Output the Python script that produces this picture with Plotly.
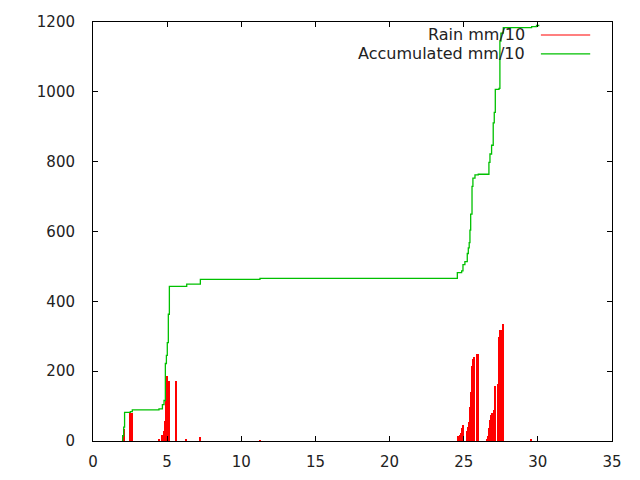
import plotly.graph_objects as go

# Rain impulses (day, mm/10)
rain_x = [2.05, 2.10, 2.52, 2.65, 4.43, 4.65, 4.77, 4.84, 4.90, 4.97, 5.04, 5.10,
          5.60, 6.25, 7.22, 11.26,
          24.59, 24.65, 24.73, 24.79, 24.86, 24.93, 25.20, 25.26, 25.33, 25.40,
          25.47, 25.54, 25.60, 25.67, 25.87, 25.94,
          26.55, 26.62, 26.69, 26.75, 26.82, 26.89, 26.95, 27.02, 27.09, 27.29,
          27.36, 27.42, 27.56, 27.63, 29.56]
rain_y = [10, 35, 81, 81, 3, 16, 28, 56, 155, 187, 86, 171,
          172, 3, 12, 2,
          14, 14, 16, 23, 37, 45, 28, 40, 54, 97,
          140, 215, 234, 241, 249, 249,
          5, 13, 36, 59, 74, 80, 80, 89, 157, 162,
          298, 317, 317, 334, 3]

# Accumulated rain (step line)
acc_x = [1.95, 2.00, 2.07, 2.13, 2.52, 2.65, 4.45, 4.68, 4.79, 4.88, 4.95, 5.01,
         5.08, 5.15, 6.32, 7.24, 11.26, 24.57, 24.86, 24.95, 25.08, 25.24, 25.31,
         25.37, 25.42, 25.47, 25.56, 25.62, 25.76, 25.98, 26.70, 26.77, 26.88,
         26.99, 27.06, 27.13, 27.38, 27.44, 27.51, 27.67, 29.58, 29.91, 30.10]
acc_y = [0, 15, 40, 82, 84, 89, 92, 104, 116, 222, 245, 282,
         363, 443, 449, 463, 466, 482, 487, 505, 514, 537, 553,
         568, 604, 650, 729, 753, 762, 764, 798, 822, 847,
         911, 941, 1007, 1010, 1145, 1168, 1184, 1187, 1190, 1190]

fig = go.Figure()

fig.add_trace(go.Bar(
    x=rain_x, y=rain_y, width=0.075,
    marker=dict(color="#ff0000", line=dict(width=0)),
    name="Rain mm/10", showlegend=False
))

fig.add_trace(go.Scatter(
    x=acc_x, y=acc_y, mode="lines",
    line=dict(color="#00c000", width=1.3, shape="hv"),
    name="Accumulated mm/10", showlegend=False
))

# gnuplot-style key: text on the left, line sample on the right
key = [("Rain mm/10", "#ff0000", 0.969), ("Accumulated mm/10", "#00c000", 0.924)]
for label, col, yk in key:
    fig.add_annotation(x=0.836, y=yk, xref="paper", yref="paper", text=label,
                       showarrow=False, xanchor="right", yanchor="middle",
                       font=dict(family="DejaVu Sans", size=16, color="#222"))
    fig.add_shape(type="line", xref="paper", yref="paper",
                  x0=0.863, x1=0.958, y0=yk, y1=yk,
                  line=dict(color=col, width=1.2))

axis_style = dict(
    showgrid=False, zeroline=False, showline=True, linecolor="black", linewidth=1,
    mirror="allticks", ticks="inside", ticklen=5, tickcolor="black", tickwidth=1,
    tickfont=dict(family="DejaVu Sans", size=15, color="#222"), automargin=False,
)

# page body adds an 8px offset, so the figure is a little smaller
fig.update_layout(
    width=632, height=472, autosize=False,
    margin=dict(l=85, r=28, t=14, b=39, autoexpand=False),
    paper_bgcolor="white", plot_bgcolor="white",
    bargap=0, showlegend=False,
    xaxis=dict(range=[0, 35], dtick=5, tick0=0, ticklabelstandoff=7, **axis_style),
    yaxis=dict(range=[0, 1200], dtick=200, tick0=0, ticklabelstandoff=14, **axis_style),
)

fig.write_html("out.html")
